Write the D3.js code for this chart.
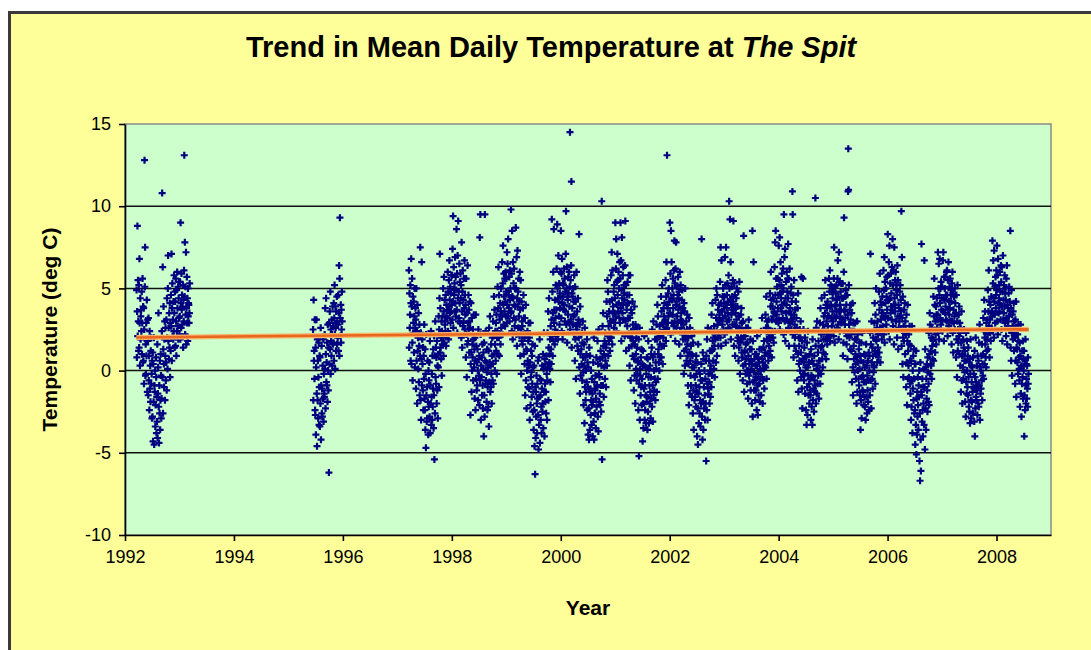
<!DOCTYPE html>
<html>
<head>
<meta charset="utf-8">
<script src="https://cdn.jsdelivr.net/npm/d3@7"></script>
<style>
body { margin: 0; background: #fff; }
text { font-family: "Liberation Sans", Arial, sans-serif; }
</style>
</head>
<body>
<svg id="chart"></svg>
<script>
// mean daily temperature readings (deg C), one array per stretch of record
// (one line per month)
var t1992 = [4.9,0.8,3.6,8.8,2.1,5.5,3.0,1.2,
  5.2,1.4,6.8,2.9,0.3,4.4,1.9,3.3,3.7,2.4,4.8,1.0,2.9,5.6,0.5,3.9,
  0.6,3.8,-0.8,2.5,12.8,5.1,7.5,-0.3,1.6,-0.2,2.9,0.9,4.3,1.8,-1.3,3.1,
  1.8,-1.5,3.2,-0.6,0.9,-2.4,2.4,-1.1,0.3,-1.9,1.2,-0.8,2.0,-0.2,-2.9,0.6,
  -2.8,1.1,-4.3,0.4,-1.9,2.0,-4.5,-0.9,-1.3,0.0,-3.4,-2.1,0.8,-0.4,-3.8,-1.6,
  -3.1,1.6,-4.1,-1.4,0.2,3.5,-2.2,-4.4,-0.9,-2.6,0.6,-3.6,-1.8,1.0,-0.3,-2.9,
  -1.7,2.4,10.8,-0.4,6.3,-2.6,1.3,3.9,0.4,-1.0,1.9,3.0,-1.8,0.9,2.6,-0.6,
  0.5,3.1,-1.2,4.4,2.0,0.1,5.0,7.0,1.8,2.6,0.7,3.5,1.4,4.1,-0.4,2.9,
  1.2,4.6,2.7,7.1,0.6,3.8,5.3,2.1,3.1,1.9,4.2,2.4,5.8,3.5,1.4,4.8,
  4.2,1.5,5.6,3.0,0.9,4.9,2.4,6.0,3.8,2.7,5.1,1.9,4.4,3.2,5.4,2.2,
  3.3,5.4,1.9,9.0,4.1,2.6,5.9,3.7,4.6,2.8,3.9,5.2,1.4,4.3,3.0,6.1,
  13.1,4.5,7.8,2.2,5.1,3.4,7.2,1.6,3.8,5.7,2.9,4.4,1.8,5.0,3.3,4.1,
  4.0,2.9,3.5,5.3];
var t1995 = [2.5,-1.8,4.3,0.6,1.2,-0.5,3.1,-2.4,
  -2.7,1.4,-3.9,0.2,3.1,-1.4,-4.6,1.9,-1.8,0.6,-2.9,-0.4,1.7,-3.3,-1.0,0.9,
  -3.4,0.8,-2.0,2.6,-4.2,-0.9,1.5,-2.6,-1.1,-2.8,0.3,-1.7,1.9,-3.1,-0.2,-1.4,
  -1.6,2.2,0.1,3.8,-2.3,1.0,4.4,-0.7,0.5,-0.9,1.7,-1.9,2.8,0.0,-1.2,1.4,
  -6.2,2.9,0.4,3.6,1.3,4.8,-0.2,2.5,1.8,0.9,3.1,2.2,0.3,3.9,1.6,2.7,
  1.7,4.1,0.6,3.2,5.2,2.2,0.1,3.9,2.6,1.2,3.6,2.9,4.5,1.6,3.0,2.0,
  2.8,4.6,1.2,3.5,6.4,0.9,5.6,9.3,3.2,2.1,4.0,1.7,3.7,2.5,4.8,3.0];
var t1997 = [6.1,1.4,4.7,2.6,3.4,5.2,0.6,4.1,
  6.8,0.4,3.9,5.6,1.7,-0.6,4.5,2.3,2.9,4.2,1.1,3.3,5.0,0.2,2.6,3.8,
  3.1,-1.1,5.0,0.6,2.4,-2.0,4.0,1.2,2.0,0.1,3.5,-0.7,1.5,2.8,-1.5,0.9,
  7.5,-1.8,2.3,-3.0,0.7,6.6,-0.9,1.9,0.4,-1.2,1.4,-2.4,0.9,-0.5,2.8,-1.7,
  -2.4,1.3,-3.6,-0.2,-4.7,2.2,-1.5,-3.1,-1.0,-2.9,0.6,-1.9,-3.9,0.0,-2.2,-0.6,
  0.5,-2.8,1.8,-3.8,-0.9,-2.0,2.4,-3.3,-1.6,-0.2,-3.0,0.9,-2.2,-1.1,1.3,-3.5,
  -1.5,2.1,-5.4,0.9,-2.6,3.0,-0.4,1.4,-0.8,0.8,-2.0,1.8,-1.2,0.3,-2.9,1.0,
  0.2,3.3,-1.0,2.5,4.4,7.1,1.1,3.8,1.4,2.0,0.7,3.0,-0.3,2.4,1.6,3.3,
  2.0,5.0,0.9,3.6,5.7,1.7,4.3,2.8,3.0,2.4,4.6,1.5,3.3,4.0,2.1,3.7,
  3.2,6.0,2.4,4.8,1.9,5.5,3.9,6.7,4.3,3.5,5.1,2.9,4.7,3.6,5.8,4.0];
var t1998 = [5.8,3.1,7.4,4.2,9.4,2.6,6.3,4.9,4.6,5.3,3.6,6.9,4.1,5.7,3.3,4.9,
  8.6,3.7,5.9,2.3,7.0,4.4,9.1,3.0,4.8,3.2,6.5,4.1,5.4,2.9,5.9,4.4,
  5.2,2.0,7.8,3.6,1.4,4.8,6.1,2.7,4.3,3.0,5.6,3.8,6.7,2.5,4.6,3.4,
  4.0,0.8,5.6,2.2,-0.4,3.5,1.6,6.4,2.9,1.8,4.6,2.5,3.7,1.1,3.0,4.2,
  2.6,-2.7,0.4,4.1,1.1,-1.3,3.2,0.0,1.6,0.8,2.5,-0.6,1.9,3.4,0.2,1.3,
  -1.7,2.0,0.6,-2.4,3.4,-0.5,1.5,-1.2,0.5,-0.9,1.3,0.0,-1.8,2.5,0.7,-0.3,
  0.9,-2.1,8.1,-0.6,9.5,2.2,-3.0,0.3,-0.4,0.8,-1.5,1.6,-0.9,-2.3,0.1,1.1,
  -4.0,1.7,-1.5,-2.8,9.5,0.6,-0.8,2.4,-0.6,0.5,-1.9,-0.1,1.3,-2.4,-1.0,0.2,
  -2.2,1.2,-3.4,2.6,-0.7,0.5,3.3,-1.3,0.3,-1.0,1.6,-0.2,-2.0,0.9,2.0,-0.6,
  0.4,3.0,-0.8,2.1,4.5,1.0,3.7,0.0,1.6,2.4,0.6,2.9,1.2,3.4,-0.2,2.0,
  2.4,5.1,1.0,3.8,6.3,2.0,4.6,0.9,3.1,2.2,4.1,1.6,3.6,5.0,2.6,3.3,
  3.4,6.6,2.2,5.3,7.6,4.0,2.8,5.9,4.5,3.6,5.6,2.7,4.2,6.0,3.3,4.8];
var t1999 = [5.6,2.9,7.2,4.0,6.5,3.3,8.0,4.8,4.6,3.8,5.7,3.0,6.1,4.3,5.0,3.5,
  9.8,3.6,5.9,2.4,8.5,4.5,1.9,6.6,4.4,5.3,3.2,6.2,4.0,2.7,5.0,3.9,
  3.1,8.7,5.0,2.2,6.9,1.5,4.4,7.3,3.9,4.8,2.6,5.6,3.3,4.2,2.1,6.0,
  3.7,0.9,5.5,2.5,-0.2,4.2,1.8,3.0,2.7,1.6,3.8,2.2,4.6,1.0,3.2,2.0,
  0.4,3.2,-1.5,2.1,4.0,-0.6,1.3,-2.3,1.2,0.0,2.4,0.6,-1.0,1.8,2.9,0.3,
  -1.1,2.0,-3.0,0.5,2.9,-2.1,-0.4,1.2,-0.1,-1.6,0.9,-0.8,1.6,-2.5,0.2,-1.3,
  -3.6,0.3,-2.4,-4.6,1.5,-6.3,-1.0,-4.1,-1.3,-2.8,-0.3,-2.0,-3.8,-0.8,-1.7,0.6,
  -2.7,-4.8,0.8,-3.3,-1.6,1.9,-4.4,-0.5,-1.5,-3.0,-0.6,-2.2,-3.8,-1.1,0.3,-2.5,
  -2.0,1.0,-3.5,0.1,2.3,-1.3,-4.0,0.7,-0.8,-1.9,0.4,-1.3,-2.6,0.9,-0.2,-3.0,
  -0.6,2.3,0.2,3.6,-1.8,1.4,4.4,0.5,1.0,0.1,1.9,-0.7,2.7,1.3,0.4,3.1,
  9.2,2.1,4.8,0.9,3.5,6.0,1.8,8.6,2.9,3.7,1.6,4.3,2.5,3.2,5.2,2.1,
  3.7,6.2,2.3,8.9,5.0,1.9,4.4,7.0,4.2,3.3,5.3,2.8,4.7,3.8,6.0,4.5];
var t2000 = [8.5,3.2,5.9,2.4,6.8,4.1,1.9,5.3,4.5,5.2,3.7,6.2,4.0,5.6,3.0,4.8,
  3.6,7.1,9.7,2.8,5.0,6.3,1.7,4.5,4.3,3.4,5.7,4.7,2.9,6.0,3.9,5.1,
  14.5,2.5,5.5,3.1,6.4,11.5,1.4,4.7,3.8,4.5,2.8,5.0,3.3,4.2,2.2,5.8,
  3.4,0.6,5.1,1.9,4.2,-0.5,2.7,6.0,2.5,3.6,1.5,2.9,4.4,1.2,3.1,2.0,
  8.3,0.2,2.8,-1.4,3.9,1.0,-0.3,2.2,1.3,0.4,2.3,-0.6,1.7,3.0,0.8,-0.1,
  -2.1,1.6,0.3,-3.2,2.6,-1.0,0.8,-1.8,0.0,-1.3,1.0,-0.7,1.9,-2.4,0.5,-1.0,
  -3.9,0.2,-2.3,-4.2,1.4,-1.3,-3.6,0.9,-1.1,-2.7,0.0,-1.8,-3.3,-0.5,-2.1,-1.4,
  -4.0,-1.9,0.5,-3.1,2.0,-4.2,-0.7,-2.6,-1.2,-2.6,-0.3,-3.5,-1.7,0.8,-2.2,-0.9,
  -1.0,1.8,-2.8,0.4,-3.7,2.5,-0.2,-1.9,-0.4,-1.4,0.7,-2.1,1.2,-0.9,-2.5,0.3,
  10.3,-5.4,0.8,2.7,-0.9,3.5,1.5,-1.6,1.0,0.2,1.8,-0.5,2.3,0.6,1.4,-1.0,
  1.6,4.2,0.3,3.3,5.5,2.1,4.8,0.9,2.7,1.8,3.6,2.3,4.2,1.2,3.0,2.0,
  3.0,5.8,2.0,7.2,4.3,1.6,6.1,3.5,3.9,3.1,4.8,2.6,5.2,3.5,4.4,2.9];
var t2001 = [9.0,3.3,6.2,8.0,2.4,5.4,4.0,7.1,4.6,5.5,3.6,6.0,4.1,5.0,3.2,6.6,
  2.9,5.6,9.0,3.8,6.7,1.8,4.9,8.1,4.4,3.5,5.8,4.0,6.3,3.1,5.2,4.7,
  4.3,2.1,6.4,9.1,3.0,5.2,1.2,4.0,3.7,4.6,2.7,5.4,3.2,4.1,2.2,5.8,
  1.4,4.6,0.3,3.2,5.8,2.0,-0.6,3.7,2.4,1.5,3.5,2.0,4.2,0.9,2.8,1.8,
  2.5,-1.2,0.7,3.9,-0.3,1.6,-2.0,2.8,1.0,0.1,2.0,-0.6,1.4,2.6,-0.2,0.5,
  0.6,-2.4,1.9,-5.2,-0.8,2.6,-3.0,0.1,-0.3,-1.5,0.8,-1.0,1.3,-2.1,-0.5,0.4,
  -4.3,1.2,-2.0,-3.5,0.3,-1.1,2.1,-3.0,-0.9,-2.4,0.2,-1.5,-3.2,-0.2,-1.9,0.8,
  -1.6,-3.6,0.7,-2.5,1.8,-0.4,-3.2,0.1,-0.9,-2.0,0.3,-1.3,-2.9,-0.4,1.0,-1.7,
  1.4,-2.2,2.5,-0.9,-3.1,0.8,3.0,-1.5,0.0,-1.2,1.0,-0.5,1.9,-1.8,0.5,-0.7,
  0.1,2.8,-1.3,1.9,4.0,-0.5,3.3,1.0,1.3,0.5,2.2,0.0,2.7,1.6,0.8,2.1,
  2.3,4.5,0.8,3.6,1.5,5.2,2.9,0.4,2.8,2.0,3.8,1.5,3.3,4.1,2.5,3.0,
  3.1,5.5,1.8,4.5,6.6,2.6,13.1,4.0,3.8,2.9,4.7,3.3,5.0,2.4,4.2,3.5];
var t2002 = [9.0,3.5,5.9,2.2,8.5,4.4,6.6,2.9,4.3,5.0,3.4,5.6,3.8,4.6,2.7,6.1,
  7.9,3.0,5.3,1.8,6.2,4.0,7.8,2.6,4.2,3.3,5.1,4.6,2.9,5.7,3.7,4.4,
  4.8,1.6,3.9,6.0,2.4,0.9,5.2,3.1,3.5,2.6,4.3,3.0,4.9,2.2,3.8,1.9,
  2.8,-0.2,4.1,1.2,3.6,0.3,5.0,1.9,2.1,1.3,3.0,0.6,2.5,3.4,1.6,0.9,
  -0.9,2.0,0.4,-2.1,3.2,1.1,-1.4,2.6,0.6,-0.3,1.5,-0.9,1.0,2.1,-1.6,0.2,
  0.9,-2.6,1.7,-1.2,-3.6,0.2,2.3,-1.8,-0.4,-1.6,0.5,-0.9,-2.2,0.9,-0.2,-1.3,
  -4.0,0.5,-2.3,-4.5,1.6,-1.4,-3.2,0.0,-1.0,-2.6,-0.2,-1.8,-3.4,-0.6,-2.0,0.4,
  8.0,-2.8,-0.6,-4.2,1.1,-1.9,-3.6,0.7,-1.0,-2.3,0.0,-1.5,-3.0,-0.5,-2.0,0.6,
  -5.5,0.9,-2.4,1.9,-0.8,-3.0,2.6,-1.1,-0.2,-1.4,0.6,-0.7,-2.0,1.2,0.0,-1.6,
  0.3,2.5,-1.0,3.4,1.2,-0.3,4.1,1.8,1.3,0.6,2.0,0.1,2.7,1.5,-0.4,2.2,
  1.9,4.3,0.5,3.2,5.0,2.4,0.9,4.6,2.8,2.0,3.7,1.5,3.1,4.0,2.3,3.4,
  3.0,5.4,2.0,7.5,4.1,1.5,6.7,3.6,3.6,2.8,4.5,3.2,5.0,2.5,4.1,3.9];
var t2003 = [4.5,2.2,6.9,3.3,5.2,1.7,7.5,4.0,3.8,4.6,3.0,5.3,3.5,4.2,2.6,5.8,
  3.1,10.3,5.0,2.5,9.2,4.3,6.6,1.9,4.0,3.4,5.1,3.7,4.5,2.8,5.5,4.2,
  9.1,3.7,1.5,5.3,2.8,4.6,0.9,3.9,3.5,2.7,4.4,3.1,5.0,2.3,3.9,1.8,
  2.0,4.8,0.6,3.3,1.4,5.4,2.6,-0.2,2.5,1.7,3.4,2.0,3.8,1.1,2.9,0.8,
  1.9,-0.6,3.0,0.3,8.2,2.3,-1.3,1.1,1.2,0.4,2.1,-0.2,1.6,2.6,0.7,0.0,
  -0.8,1.7,0.0,2.6,-1.7,0.9,3.1,-0.3,0.4,-0.7,1.3,-0.1,1.9,-1.2,0.6,0.1,
  1.3,-2.0,0.4,8.5,-2.8,1.8,-0.7,6.6,-0.1,-1.2,0.7,-0.6,1.0,-1.8,0.3,-0.4,
  -1.2,1.0,-2.4,0.3,2.1,-0.9,-2.7,0.8,-0.2,-1.5,0.5,-0.8,1.3,-1.9,0.1,-0.5,
  0.0,2.4,-1.5,1.3,-0.4,3.2,0.7,-2.0,0.5,-0.6,1.4,0.1,1.8,-1.1,0.9,0.3,
  1.1,3.4,0.2,2.6,4.5,-0.5,1.9,3.0,1.8,1.0,2.6,0.6,3.1,1.5,2.2,0.9,
  2.3,4.7,1.2,3.9,6.0,2.0,4.3,0.8,3.1,2.4,3.9,2.0,4.4,3.3,1.7,3.6,
  3.5,6.3,2.4,7.8,4.6,8.5,3.0,5.6,4.2,3.4,5.1,3.0,5.6,3.8,4.6,2.9];
var t2004 = [7.6,3.1,5.5,8.1,2.5,4.7,6.6,3.8,4.4,5.2,3.6,5.9,4.0,4.8,3.2,6.2,
  5.0,2.2,9.5,4.1,6.9,3.0,7.4,1.8,4.4,3.5,5.4,4.0,6.0,3.1,4.8,5.6,
  4.4,7.7,2.6,5.6,1.5,3.6,6.2,2.9,3.8,3.0,4.7,3.4,5.1,2.5,4.2,3.1,
  10.9,9.5,2.2,4.6,0.8,3.4,5.5,1.5,2.8,2.0,3.7,2.4,4.2,1.2,3.2,2.6,
  2.4,-0.6,3.8,1.0,4.7,-1.3,2.0,0.4,1.5,0.6,2.5,0.0,2.0,3.0,1.1,-0.4,
  5.7,-1.1,1.8,-2.3,0.7,5.6,-0.2,2.5,0.5,-0.6,1.4,-0.2,2.0,-1.4,0.9,0.2,
  -2.4,0.8,-3.3,1.7,-1.0,-2.7,0.2,2.4,-0.3,-1.5,0.5,-0.8,-2.0,1.0,-0.5,-1.2,
  -1.5,-3.0,1.3,-0.3,-2.2,0.6,-3.3,1.9,-0.4,-1.8,0.4,-1.1,-2.5,0.9,-0.6,-1.3,
  -0.9,10.5,1.5,-2.0,2.6,0.1,-1.4,3.0,0.3,-0.8,1.1,-0.3,1.8,-1.7,0.6,0.0,
  0.6,2.9,-0.8,3.8,1.4,-0.2,2.2,4.4,1.5,0.7,2.4,0.2,2.8,1.1,1.9,3.3,
  2.5,4.6,1.0,3.5,5.5,1.9,4.0,0.7,3.0,2.2,3.8,1.6,4.2,2.7,3.3,2.0,
  3.3,5.6,2.2,4.8,6.1,1.8,3.9,5.2,4.0,3.2,4.8,2.7,5.1,3.6,4.4,3.0];
var t2005 = [4.8,2.1,5.6,7.5,3.3,1.7,5.1,3.9,4.0,4.7,3.2,5.2,3.6,4.3,2.6,5.6,
  6.7,2.8,4.5,1.9,7.2,3.6,5.4,2.4,4.0,3.3,4.8,3.7,5.3,2.9,4.4,3.1,
  3.0,5.3,0.9,4.4,1.7,6.0,9.3,3.7,3.6,2.8,4.5,3.2,4.9,2.3,4.0,1.6,
  2.1,4.6,0.7,3.4,10.9,13.5,11.0,5.2,2.8,2.0,3.7,2.4,1.3,3.1,4.0,2.2,
  1.2,3.5,-0.7,2.4,4.1,0.2,-1.5,2.9,1.5,0.7,2.4,-0.1,1.9,2.9,1.0,0.4,
  -0.5,1.9,-2.0,0.8,3.0,-1.3,2.2,0.0,0.5,-0.5,1.3,-0.9,1.7,0.1,-1.5,0.9,
  -3.6,0.6,-1.8,1.7,-2.9,-0.4,2.3,-1.2,-0.3,-1.3,0.5,-2.1,-0.7,1.0,-1.6,0.2,
  -2.2,0.9,-3.0,-0.7,1.6,-1.6,0.3,-2.6,-0.3,-1.2,0.6,-1.9,-0.6,1.1,-2.4,0.0,
  0.9,-1.5,2.3,7.1,-0.6,1.6,-2.3,3.0,0.5,-0.5,1.4,-1.1,0.9,2.0,-0.1,0.3,
  0.2,2.9,4.1,1.2,-0.8,3.4,1.9,5.0,1.8,1.0,2.6,0.5,3.0,1.4,2.2,0.8,
  2.3,4.8,1.1,3.7,5.9,2.6,0.5,4.2,3.1,2.3,4.0,1.9,3.5,4.5,2.7,3.3,
  3.5,6.1,2.2,4.9,6.9,1.7,5.4,3.2,4.1,3.3,5.0,2.8,4.5,5.7,3.7,4.3];
var t2006 = [8.3,3.2,5.8,2.4,6.6,4.3,7.6,1.9,4.4,5.3,3.5,5.9,3.9,4.7,3.1,6.3,
  3.7,8.0,5.2,2.7,6.1,4.0,1.6,7.5,4.4,3.6,5.5,4.0,6.0,3.0,4.9,5.2,
  4.6,2.0,6.4,3.3,5.5,1.3,4.0,2.6,3.8,3.0,4.8,3.3,5.2,2.5,4.3,3.6,
  9.7,1.5,6.9,3.2,0.4,4.5,2.0,-0.4,2.7,1.8,3.7,2.3,4.1,1.0,3.0,2.5,
  2.2,-1.0,3.4,0.5,-2.1,1.8,4.0,-0.5,1.2,0.3,2.2,-0.4,1.6,2.7,0.6,-0.8,
  -1.4,1.5,-3.0,0.6,-2.2,2.7,-0.6,-3.8,0.0,-1.1,0.9,-1.8,1.3,-0.5,-2.6,0.4,
  -2.4,-4.5,0.4,-3.3,1.2,-5.1,-1.7,-3.9,-1.3,-2.8,-0.4,-2.1,-3.6,-0.9,-1.6,0.0,
  -5.5,-2.6,-6.7,0.5,-4.2,-6.1,-1.3,7.7,-1.5,-3.1,-0.5,-2.4,-4.0,-1.0,-2.0,0.1,
  -3.3,6.7,-1.0,-4.8,1.3,-2.3,0.2,-3.6,-0.5,-1.7,0.4,-1.2,-2.5,0.8,-0.1,-1.9,
  -0.8,2.3,-2.1,1.0,3.5,-0.2,2.8,0.4,1.2,0.3,2.0,-0.5,2.6,1.5,0.7,1.9,
  1.8,4.5,0.6,3.3,5.6,2.4,4.0,1.1,3.0,2.2,3.9,1.6,3.4,4.4,2.6,3.1,
  3.4,7.2,2.3,5.0,6.5,1.9,4.6,6.8,4.1,3.2,5.0,2.8,5.4,3.7,4.4,3.0];
var t2007 = [5.1,2.4,6.7,3.6,7.2,4.4,1.8,5.7,4.3,5.0,3.5,5.7,3.9,4.6,3.1,6.0,
  3.0,6.1,4.6,2.1,5.5,3.7,6.6,2.7,4.2,3.4,5.1,3.8,5.6,3.0,4.6,4.9,
  4.2,1.6,5.3,3.0,6.0,2.3,4.7,1.1,3.7,2.9,4.5,3.3,5.0,2.5,4.1,3.5,
  3.5,0.8,4.6,1.9,-0.4,3.0,5.2,1.2,2.5,1.7,3.4,2.1,3.9,1.0,2.9,2.3,
  0.3,2.6,-1.3,1.7,3.6,-0.6,0.9,-2.0,1.0,0.2,1.9,-0.5,1.4,2.5,0.6,-0.1,
  1.2,-1.9,0.6,-2.8,2.3,-0.7,-1.4,1.8,0.0,-1.0,0.9,-1.5,1.4,-0.4,-2.2,0.5,
  -2.5,0.7,-3.2,-0.2,1.9,-1.8,-2.9,0.3,-0.7,-1.9,0.2,-1.3,-2.6,0.8,-1.0,-0.2,
  -1.1,-3.1,1.2,-4.0,-0.4,-2.3,2.0,-1.6,-0.7,-1.8,0.3,-1.2,-2.7,0.9,-0.9,-2.0,
  0.6,-2.2,1.7,-0.9,2.8,-3.0,0.2,-1.4,0.0,-1.1,0.9,-0.6,1.6,-1.8,0.4,-0.3,
  1.0,3.2,-0.5,2.4,4.3,0.4,2.0,3.6,1.6,0.8,2.4,0.2,2.9,1.2,1.9,3.1,
  2.2,4.9,1.3,3.6,6.1,2.7,4.2,0.8,3.1,2.3,4.0,1.8,3.5,4.5,2.6,3.3,
  3.6,7.9,2.4,5.3,6.7,4.4,2.0,7.3,4.2,3.4,5.1,2.9,5.7,3.8,4.6,6.1];
var t2008 = [4.9,7.6,3.0,5.8,2.2,6.8,4.1,3.5,4.4,5.2,3.6,6.0,4.0,4.8,3.1,6.4,
  5.4,2.5,6.3,3.9,1.8,4.8,7.0,3.1,4.3,3.5,5.2,3.9,5.8,2.9,4.7,5.0,
  4.3,2.1,5.6,3.2,6.4,1.6,4.0,2.7,3.8,3.0,4.7,3.3,5.1,2.5,4.2,3.6,
  8.5,1.4,3.8,0.6,4.9,2.3,-0.3,3.4,2.7,1.9,3.6,2.3,4.1,1.2,3.0,2.0,
  2.1,-0.8,3.1,0.6,4.2,-1.6,1.4,2.6,1.3,0.5,2.2,-0.2,1.8,2.8,0.8,0.1,
  -0.6,1.7,-2.2,0.9,2.8,-1.4,0.2,-2.8,0.3,-0.8,1.2,-0.4,1.8,-1.7,0.7,0.0,
  1.2,-4.0,-1.5,0.6,-2.4,1.9,-0.9,-2.0,0.4,-0.5,-1.7,0.3,-1.1,-2.2,0.8,-0.8,-0.2];

// date span (decimal years) covered by each array above
var segStart = [1992.21, 1995.45, 1997.21, 1998, 1999, 2000, 2001, 2002, 2003, 2004, 2005, 2006, 2007, 2008];
var segEnd   = [1993.19, 1995.99, 1998, 1999, 2000, 2001, 2002, 2003, 2004, 2005, 2006, 2007, 2008, 2008.59];
var segTemps = [t1992, t1995, t1997, t1998, t1999, t2000, t2001, t2002, t2003, t2004, t2005, t2006, t2007, t2008];

// linear trend line end points
var trendYears = [1992.21, 2008.59];
var trendTemps = [2.02, 2.52];

var xTicks = [1992, 1994, 1996, 1998, 2000, 2002, 2004, 2006, 2008];
var yTicks = [-10, -5, 0, 5, 10, 15];

var svgWidth = 1091, svgHeight = 650;
var plotLeft = 125, plotRight = 1051, plotTop = 124, plotBottom = 535;

var svg = d3.select('#chart')
    .attr('width', svgWidth)
    .attr('height', svgHeight);

// chart area (runs off the right and bottom of the picture)
svg.append('rect')
    .attr('x', 9.5).attr('y', 12.5)
    .attr('width', 1100).attr('height', 700)
    .attr('fill', '#ffff99')
    .attr('stroke', '#3a3a3a')
    .attr('stroke-width', 3);

var xScale = d3.scaleLinear()
    .domain([1992, 2009])
    .range([plotLeft, plotRight]);

var yScale = d3.scaleLinear()
    .domain([-10, 15])
    .range([plotBottom, plotTop]);

// plot area
svg.append('rect')
    .attr('x', plotLeft).attr('y', plotTop)
    .attr('width', plotRight - plotLeft).attr('height', plotBottom - plotTop)
    .attr('fill', '#ccffcc')
    .attr('stroke', '#8a8a8a')
    .attr('stroke-width', 1.5);

// horizontal gridlines
svg.append('g')
    .selectAll('line')
    .data(yTicks.filter(function (d) { return d > -10 && d < 15; }))
    .enter()
    .append('line')
    .attr('x1', plotLeft).attr('x2', plotRight)
    .attr('y1', function (d) { return yScale(d); })
    .attr('y2', function (d) { return yScale(d); })
    .attr('stroke', '#111')
    .attr('stroke-width', 1.5);

// daily points
var points = [];
segTemps.forEach(function (vals, s) {
    var span = segEnd[s] - segStart[s];
    vals.forEach(function (v, i) {
        points.push({ year: segStart[s] + span * (i + 0.5) / vals.length, temp: v });
    });
});

svg.append('g')
    .selectAll('path')
    .data(points)
    .enter()
    .append('path')
    .attr('d', 'M-3.5,0H3.5M0,-3.5V3.5')
    .attr('transform', function (d) {
        return 'translate(' + xScale(d.year) + ',' + yScale(d.temp) + ')';
    })
    .attr('stroke', '#000080')
    .attr('stroke-width', 2.2)
    .attr('fill', 'none');

// trend line
var trend = trendYears.map(function (y, i) { return [y, trendTemps[i]]; });
var line = d3.line()
    .x(function (d) { return xScale(d[0]); })
    .y(function (d) { return yScale(d[1]); });

svg.append('path')
    .datum(trend)
    .attr('d', line)
    .attr('stroke', '#f6b46a')
    .attr('stroke-width', 5)
    .attr('fill', 'none');
svg.append('path')
    .datum(trend)
    .attr('d', line)
    .attr('stroke', '#e8661e')
    .attr('stroke-width', 2.5)
    .attr('fill', 'none');

// axes
var xAxis = d3.axisBottom(xScale)
    .tickValues(xTicks)
    .tickFormat(function (d) { return d; })
    .tickSizeInner(6).tickSizeOuter(0)
    .tickPadding(9);

var yAxis = d3.axisLeft(yScale)
    .tickValues(yTicks)
    .tickFormat(function (d) { return d; })
    .tickSizeInner(6).tickSizeOuter(0)
    .tickPadding(8);

var gx = svg.append('g')
    .attr('transform', 'translate(0,' + plotBottom + ')')
    .call(xAxis);

var gy = svg.append('g')
    .attr('transform', 'translate(' + plotLeft + ',0)')
    .call(yAxis);

[gx, gy].forEach(function (g) {
    g.selectAll('path, line').attr('stroke', '#000').attr('stroke-width', 1.6);
    g.selectAll('text')
        .attr('fill', '#000')
        .style('font-size', '18px')
        .style('font-family', '"Liberation Sans", Arial, sans-serif');
});

// titles
var title = svg.append('text')
    .attr('x', 551).attr('y', 57)
    .attr('text-anchor', 'middle')
    .style('font-size', '29px')
    .style('font-weight', 'bold');
title.append('tspan').text('Trend in Mean Daily Temperature at ');
title.append('tspan').style('font-style', 'italic').text('The Spit');

svg.append('text')
    .attr('x', (plotLeft + plotRight) / 2).attr('y', 615)
    .attr('text-anchor', 'middle')
    .style('font-size', '21px')
    .style('font-weight', 'bold')
    .text('Year');

svg.append('text')
    .attr('transform', 'translate(57,' + (plotTop + plotBottom) / 2 + ') rotate(-90)')
    .attr('text-anchor', 'middle')
    .style('font-size', '21px')
    .style('font-weight', 'bold')
    .text('Temperature (deg C)');
</script>
</body>
</html>
